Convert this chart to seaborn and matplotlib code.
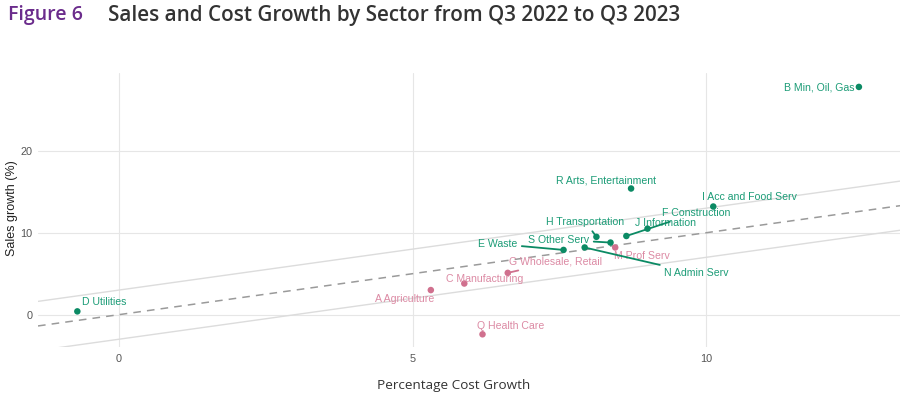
import matplotlib
matplotlib.use("Agg")
import matplotlib.pyplot as plt
import seaborn as sns
import pandas as pd
import numpy as np

# ---- data ----
sectors = ["D Utilities", "B Min, Oil, Gas", "R Arts, Entertainment", "I Acc and Food Serv",
           "J Information", "F Construction", "H Transportation", "S Other Serv",
           "M Prof Serv", "E Waste", "N Admin Serv", "G Wholesale, Retail",
           "C Manufacturing", "A Agriculture", "Q Health Care"]
cost_growth = [-0.71, 12.6, 8.72, 10.12, 9.0, 8.64, 8.13, 8.37, 8.45, 7.57, 7.93, 6.62, 5.88, 5.31, 6.19]
sales_growth = [0.4, 27.8, 15.4, 13.2, 10.5, 9.6, 9.5, 8.8, 8.2, 7.9, 8.2, 5.1, 3.8, 3.0, -2.4]
group = ["above", "above", "above", "above", "above", "above", "above", "above",
         "below", "above", "above", "below", "below", "below", "below"]
x_ticks = [0, 5, 10]
y_ticks = [0, 10, 20]

# ---- styling (label offsets in pixels, not data) ----
label_offsets = {
    "D Utilities": (27, 9), "B Min, Oil, Gas": (-40, -1), "R Arts, Entertainment": (-25, 8),
    "I Acc and Food Serv": (36, 10), "J Information": (18, 6), "F Construction": (70, 23),
    "H Transportation": (-11, 15), "S Other Serv": (-52, 3), "M Prof Serv": (27, -9),
    "E Waste": (-66, 6), "N Admin Serv": (112, -26), "G Wholesale, Retail": (48, 11),
    "C Manufacturing": (20, 5), "A Agriculture": (-26, -9), "Q Health Care": (28, 8),
}
with_segment = {"F Construction", "H Transportation", "S Other Serv", "E Waste",
                "N Admin Serv", "G Wholesale, Retail"}
point_colors = {"above": "#0b8a64", "below": "#d0708e"}
text_colors = {"above": "#1c9c77", "below": "#dc8aa4"}

df = pd.DataFrame({"sector": sectors, "cost": cost_growth, "sales": sales_growth, "group": group})

sns.set_theme(style="whitegrid")
plt.rcParams["font.family"] = ["Liberation Sans", "DejaVu Sans"]

fig = plt.figure(figsize=(9.05, 4.12), dpi=100)
ax = fig.add_axes([38 / 905, 1 - 347 / 412, (900 - 38) / 905, (347 - 73) / 412])

xlim = (-1.38, 13.3)
ylim = (-3.95, 29.5)
xs = np.array(xlim)
ax.plot(xs, xs, color="#9a9a9a", lw=1.1, ls=(0, (5, 4)), zorder=1)
ax.plot(xs, xs + 3, color="#dcdcdc", lw=1.0, zorder=1)
ax.plot(xs, xs - 3, color="#dcdcdc", lw=1.0, zorder=1)

sns.scatterplot(data=df, x="cost", y="sales", hue="group", palette=point_colors,
                s=22, edgecolor="none", legend=False, ax=ax, zorder=3)

for s, xv, yv, g in zip(sectors, cost_growth, sales_growth, group):
    dx, dy = label_offsets[s]
    kw = {}
    if s in with_segment:
        kw["arrowprops"] = dict(arrowstyle="-", color=point_colors[g], lw=1.3,
                                shrinkA=1, shrinkB=2)
    ax.annotate(s, (xv, yv), xytext=(dx, dy), textcoords="offset pixels",
                ha="center", va="center", fontsize=7.6, color=text_colors[g],
                zorder=4, **kw)

ax.set_xlim(*xlim)
ax.set_ylim(*ylim)
ax.set_xticks(x_ticks)
ax.set_yticks(y_ticks)
ax.grid(True, color="#e6e6e6", lw=0.8)
ax.set_axisbelow(True)
for sp in ax.spines.values():
    sp.set_visible(False)
ax.tick_params(axis="both", length=0, labelsize=7.8, colors="#555555")
ax.tick_params(axis="x", pad=5)
ax.tick_params(axis="y", pad=4)
ax.set_xlabel("")
ax.set_ylabel("")

fig.text(454 / 905, 1 - 385 / 412, "Percentage Cost Growth", family=["Open Sans", "DejaVu Sans"],
         fontsize=9.7, color="#333333", ha="center", va="center")
fig.text(12 / 905, 1 - 208 / 412, "Sales growth (%)", fontsize=9, color="#222222",
         rotation=90, ha="center", va="center")

fig.text(8 / 905, 1 - 15 / 412, "Figure 6", family=["Open Sans", "DejaVu Sans"],
         fontsize=14, fontweight="semibold", color="#6b2c8c", va="center", ha="left")
fig.text(108 / 905, 1 - 15 / 412, "Sales and Cost Growth by Sector from Q3 2022 to Q3 2023",
         family=["Open Sans", "DejaVu Sans"], fontsize=14.9, fontweight="semibold",
         color="#333333", va="center", ha="left")

fig.savefig("out.png", dpi=100)
